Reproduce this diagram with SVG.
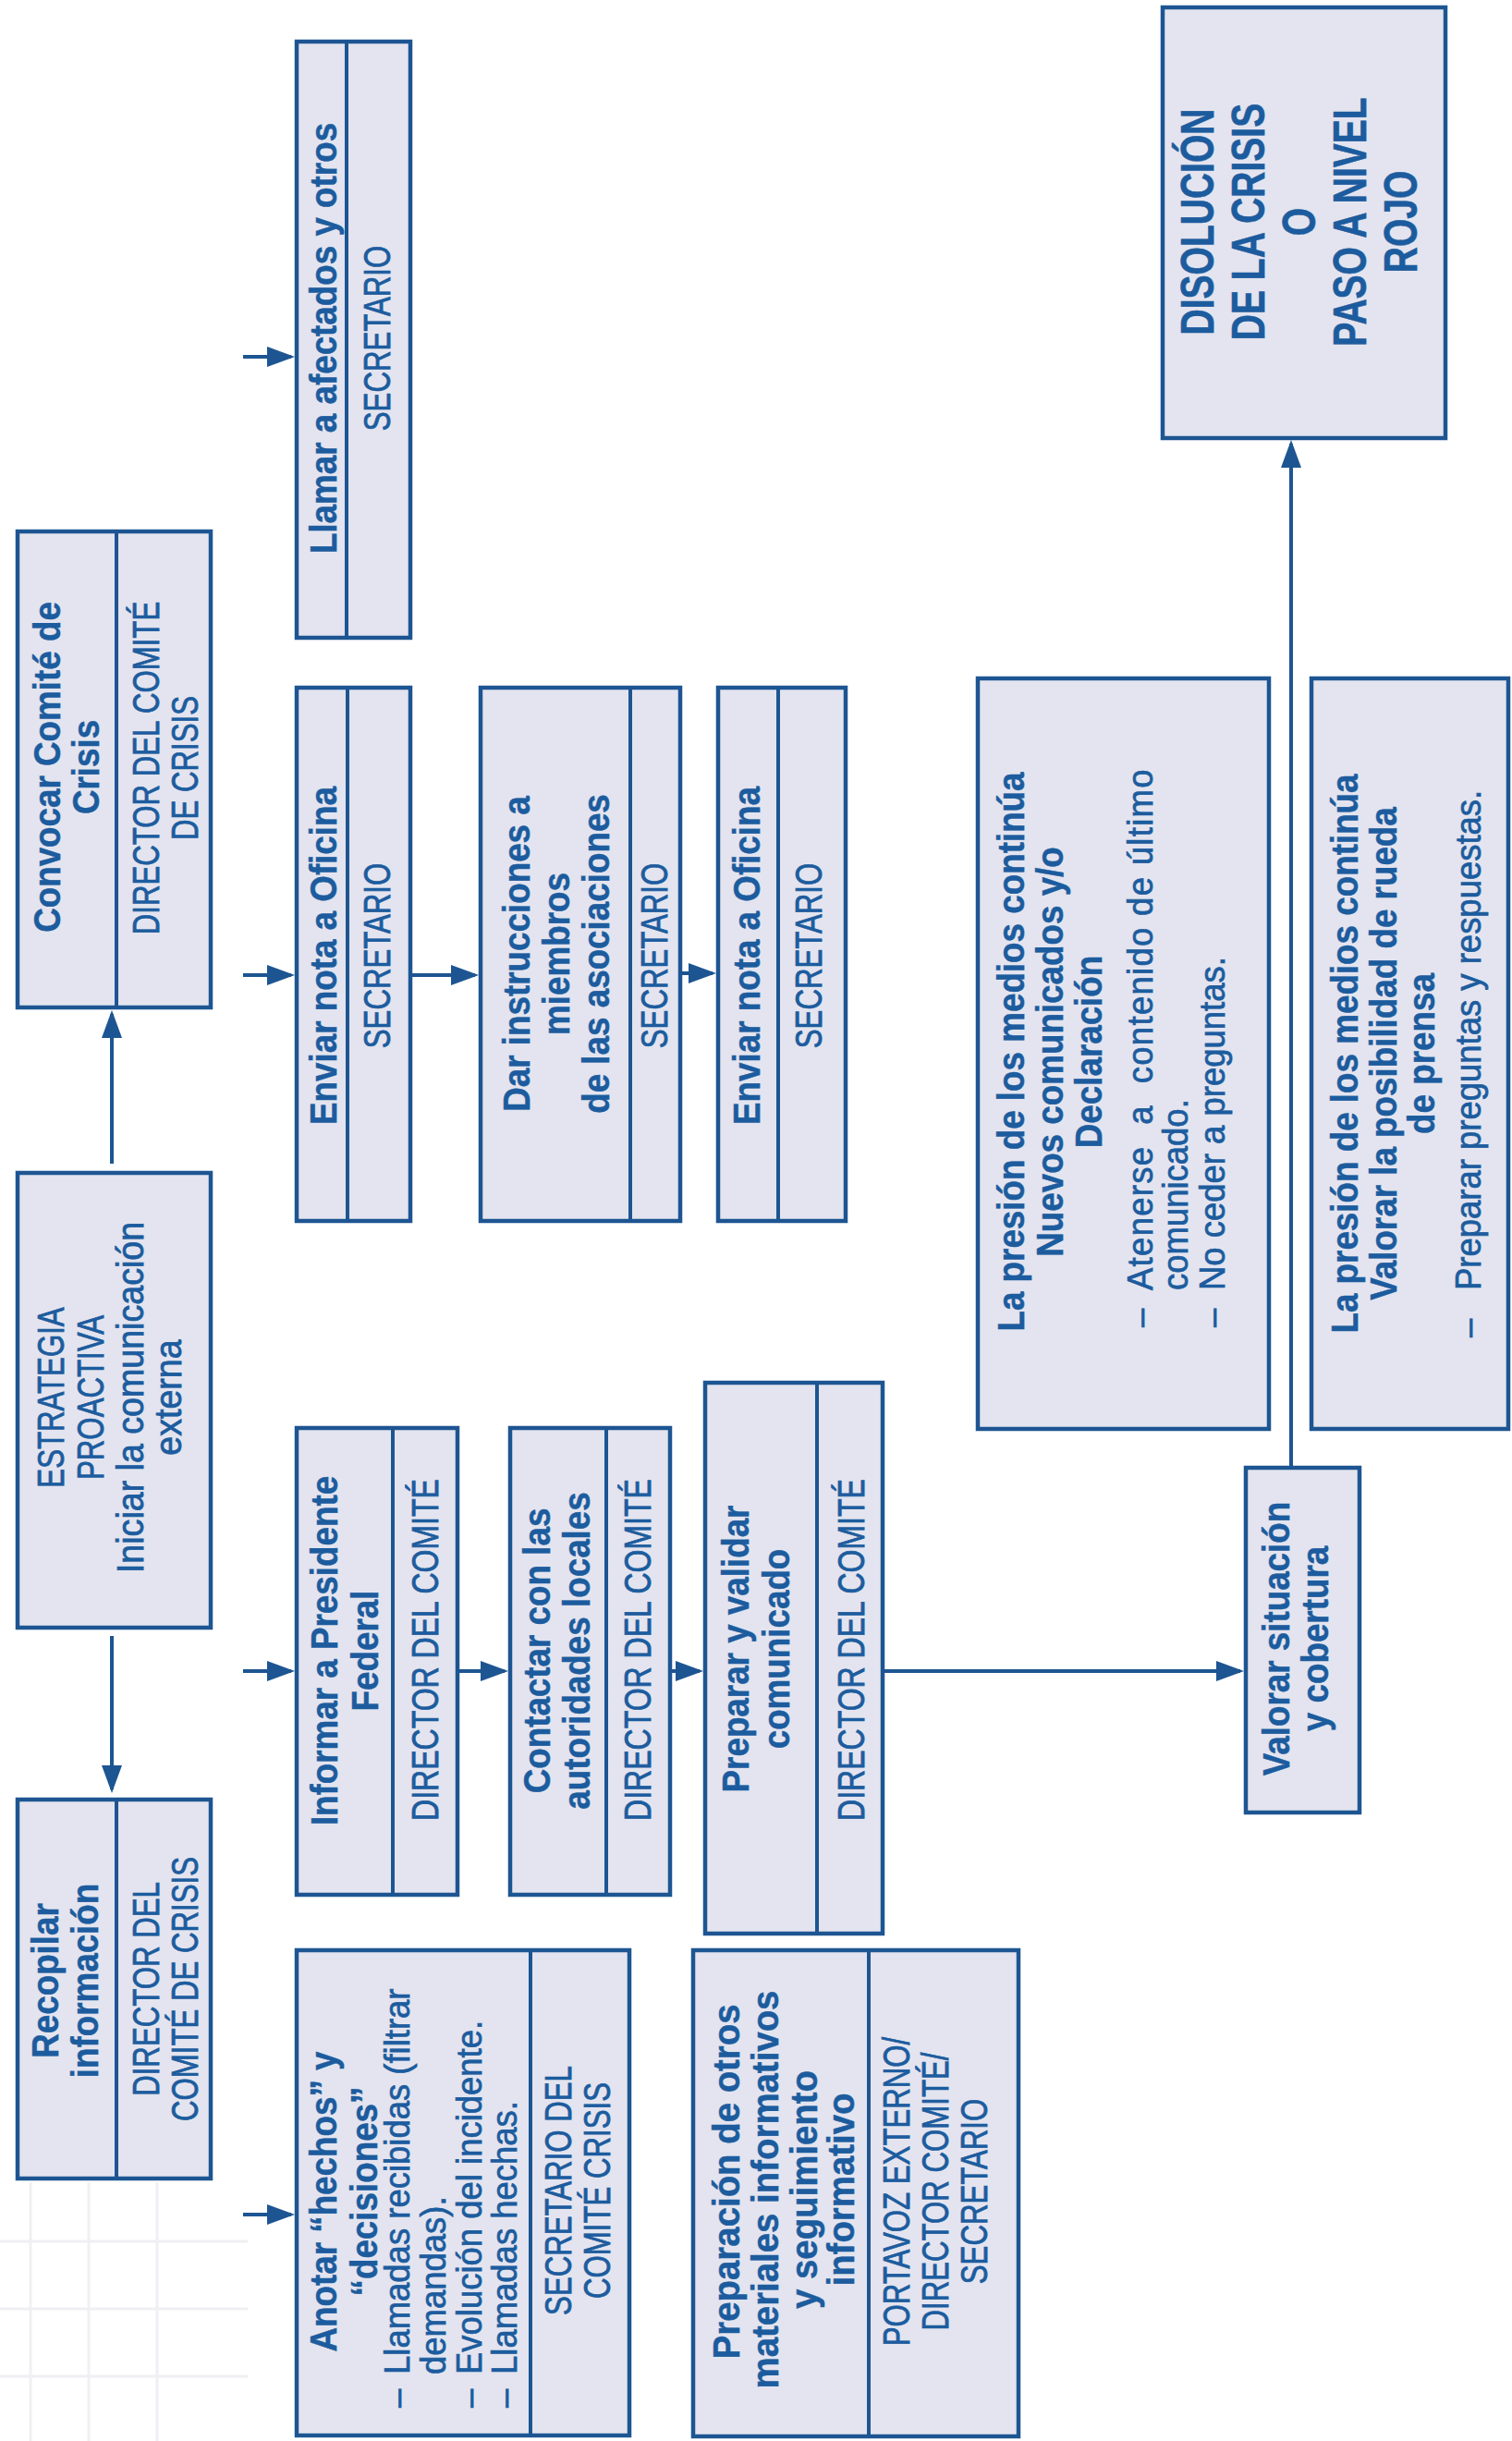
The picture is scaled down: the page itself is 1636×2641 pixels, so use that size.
<svg xmlns="http://www.w3.org/2000/svg" width="1636" height="2641" viewBox="0 0 1636 2641">
<style>
.box{fill:#e3e4ef;stroke:#1d5592;stroke-width:4.5}
.dv{stroke:#1d5592;stroke-width:4}
.conn{stroke:#1d5592;stroke-width:4;fill:none}
text{font-family:"Liberation Sans",Arial,sans-serif;fill:#1c5c9e}
.b{font-weight:bold;font-size:40px;text-anchor:middle;stroke:#1c5c9e;stroke-width:0.5}
.r{font-size:40px;text-anchor:middle;stroke:#1c5c9e;stroke-width:0.8}
.l{font-size:38px;stroke:#1c5c9e;stroke-width:0.7}
.d{font-weight:bold;font-size:50px;text-anchor:middle;stroke:#1c5c9e;stroke-width:0.6}
</style>
<defs>
<marker id="ah" markerUnits="userSpaceOnUse" markerWidth="30" markerHeight="22" refX="26" refY="11" orient="auto" viewBox="0 0 30 22">
<path d="M0,0 L30,11 L0,22 z" fill="#1d5592"/>
</marker>
</defs>
<rect width="1636" height="2641" fill="#ffffff"/>
<g id="grid" stroke="#f0f0f4" stroke-width="3">
<line x1="33" y1="2361" x2="33" y2="2641"/>
<line x1="96" y1="2361" x2="96" y2="2641"/>
<line x1="170" y1="2361" x2="170" y2="2641"/>
<line x1="0" y1="2425" x2="268" y2="2425"/>
<line x1="0" y1="2498" x2="268" y2="2498"/>
<line x1="0" y1="2571" x2="268" y2="2571"/>
</g>
<g id="connectors">
<path class="conn" d="M121,1259 L121,1097" marker-end="url(#ah)"/>
<path class="conn" d="M121,1770 L121,1936" marker-end="url(#ah)"/>
<path class="conn" d="M263,386 L315,386" marker-end="url(#ah)"/>
<path class="conn" d="M263,1055 L315,1055" marker-end="url(#ah)"/>
<path class="conn" d="M446,1055 L514,1055" marker-end="url(#ah)"/>
<path class="conn" d="M738,1053 L771,1053" marker-end="url(#ah)"/>
<path class="conn" d="M263,1808 L315,1808" marker-end="url(#ah)"/>
<path class="conn" d="M497,1808 L546,1808" marker-end="url(#ah)"/>
<path class="conn" d="M727,1808 L757,1808" marker-end="url(#ah)"/>
<path class="conn" d="M957,1808 L1342,1808" marker-end="url(#ah)"/>
<path class="conn" d="M1397,1586 L1397,480" marker-end="url(#ah)"/>
<path class="conn" d="M263,2396 L315,2396" marker-end="url(#ah)"/>
</g>
<g id="llamar">
<rect class="box" x="321" y="45" width="123" height="645"/>
<line class="dv" x1="375" y1="45" x2="375" y2="690"/>
<text class="b" transform="translate(0,366) rotate(-90) scale(0.92,1)" y="364">Llamar a afectados y otros</text>
<text class="r" transform="translate(0,366) rotate(-90) scale(0.78,1)" y="422">SECRETARIO</text>
</g>
<g id="convocar">
<rect class="box" x="19" y="575" width="209" height="515"/>
<line class="dv" x1="126" y1="575" x2="126" y2="1090"/>
<text class="b" transform="translate(0,830) rotate(-90) scale(0.92,1)"><tspan x="0" y="65">Convocar Comité de</tspan><tspan x="0" y="107">Crisis</tspan></text>
<text class="r" transform="translate(0,831) rotate(-90) scale(0.78,1)"><tspan x="0" y="172">DIRECTOR DEL COMITÉ</tspan><tspan x="0" y="214">DE CRISIS</tspan></text>
</g>
<g id="estrategia">
<rect class="box" x="19" y="1269" width="209" height="492"/>
<text class="r" transform="translate(0,1512) rotate(-90) scale(0.78,1)"><tspan x="0" y="69">ESTRATEGIA</tspan><tspan x="0" y="112">PROACTIVA</tspan></text>
<text class="r" transform="translate(0,1512) rotate(-90) scale(0.94,1)"><tspan x="0" y="155">Iniciar la comunicación</tspan><tspan x="0" y="196">externa</tspan></text>
</g>
<g id="recopilar">
<rect class="box" x="19" y="1947" width="209" height="410"/>
<line class="dv" x1="126" y1="1947" x2="126" y2="2357"/>
<text class="b" transform="translate(0,2143) rotate(-90) scale(0.92,1)"><tspan x="0" y="63">Recopilar</tspan><tspan x="0" y="106">información</tspan></text>
<text class="r" transform="translate(0,2152) rotate(-90) scale(0.78,1)"><tspan x="0" y="172">DIRECTOR DEL</tspan><tspan x="0" y="214">COMITÉ DE CRISIS</tspan></text>
</g>
<g id="enviar1">
<rect class="box" x="321" y="744" width="123" height="577"/>
<line class="dv" x1="376" y1="744" x2="376" y2="1321"/>
<text class="b" transform="translate(0,1034) rotate(-90) scale(0.92,1)" y="364">Enviar nota a Oficina</text>
<text class="r" transform="translate(0,1034) rotate(-90) scale(0.78,1)" y="422">SECRETARIO</text>
</g>
<g id="dar">
<rect class="box" x="520" y="744" width="216" height="577"/>
<line class="dv" x1="682" y1="744" x2="682" y2="1321"/>
<text class="b" transform="translate(0,1032) rotate(-90) scale(0.92,1)"><tspan x="0" y="573">Dar instrucciones a</tspan><tspan x="0" y="616">miembros</tspan><tspan x="0" y="659">de las asociaciones</tspan></text>
<text class="r" transform="translate(0,1034) rotate(-90) scale(0.78,1)" y="722">SECRETARIO</text>
</g>
<g id="enviar2">
<rect class="box" x="777" y="744" width="138" height="577"/>
<line class="dv" x1="842" y1="744" x2="842" y2="1321"/>
<text class="b" transform="translate(0,1034) rotate(-90) scale(0.92,1)" y="822">Enviar nota a Oficina</text>
<text class="r" transform="translate(0,1034) rotate(-90) scale(0.78,1)" y="889">SECRETARIO</text>
</g>
<g id="informar">
<rect class="box" x="321" y="1545" width="174" height="505"/>
<line class="dv" x1="425" y1="1545" x2="425" y2="2050"/>
<text class="b" transform="translate(0,1786) rotate(-90) scale(0.92,1)"><tspan x="0" y="365">Informar a Presidente</tspan><tspan x="0" y="409">Federal</tspan></text>
<text class="r" transform="translate(0,1785) rotate(-90) scale(0.8,1)" y="474">DIRECTOR DEL COMITÉ</text>
</g>
<g id="contactar">
<rect class="box" x="552" y="1545" width="173" height="505"/>
<line class="dv" x1="656" y1="1545" x2="656" y2="2050"/>
<text class="b" transform="translate(0,1786) rotate(-90) scale(0.92,1)"><tspan x="0" y="595">Contactar con las</tspan><tspan x="0" y="638">autoridades locales</tspan></text>
<text class="r" transform="translate(0,1785) rotate(-90) scale(0.8,1)" y="704">DIRECTOR DEL COMITÉ</text>
</g>
<g id="preparar">
<rect class="box" x="763" y="1496" width="192" height="596"/>
<line class="dv" x1="884" y1="1496" x2="884" y2="2092"/>
<text class="b" transform="translate(0,1784) rotate(-90) scale(0.92,1)"><tspan x="0" y="810">Preparar y validar</tspan><tspan x="0" y="854">comunicado</tspan></text>
<text class="r" transform="translate(0,1785) rotate(-90) scale(0.8,1)" y="935">DIRECTOR DEL COMITÉ</text>
</g>
<g id="anotar">
<rect class="box" x="321" y="2110" width="360" height="525"/>
<line class="dv" x1="574" y1="2110" x2="574" y2="2635"/>
<text class="b" transform="translate(0,2382) rotate(-90) scale(0.92,1)" y="364">Anotar “hechos” y</text>
<text class="b" transform="translate(0,2371) rotate(-90) scale(0.92,1)" y="408">“decisiones”</text>
<text class="l" transform="translate(0,2605) rotate(-90) scale(0.96,1)" y="443">–</text>
<text class="l" transform="translate(0,2569) rotate(-90) scale(0.96,1)"><tspan x="0" y="443">Llamadas recibidas (filtrar</tspan><tspan x="0" y="482">demandas).</tspan></text>
<text class="l" transform="translate(0,2605) rotate(-90) scale(0.96,1)" y="521">–</text>
<text class="l" transform="translate(0,2569) rotate(-90) scale(0.96,1)" y="521">Evolución del incidente.</text>
<text class="l" transform="translate(0,2605) rotate(-90) scale(0.96,1)" y="559">–</text>
<text class="l" transform="translate(0,2569) rotate(-90) scale(0.96,1)" y="559">Llamadas hechas.</text>
<text class="r" transform="translate(0,2370) rotate(-90) scale(0.78,1)"><tspan x="0" y="618">SECRETARIO DEL</tspan><tspan x="0" y="660">COMITÉ CRISIS</tspan></text>
</g>
<g id="preparacion">
<rect class="box" x="750" y="2110" width="352" height="526"/>
<line class="dv" x1="940" y1="2110" x2="940" y2="2636"/>
<text class="b" transform="translate(0,2369) rotate(-90) scale(0.96,1)"><tspan x="9" y="800">Preparación de otros</tspan><tspan x="0" y="842">materiales informativos</tspan><tspan x="0" y="884">y seguimiento</tspan><tspan x="0" y="924">informativo</tspan></text>
<text class="r" transform="translate(0,2371) rotate(-90) scale(0.78,1)"><tspan x="0" y="984">PORTAVOZ EXTERNO/</tspan><tspan x="0" y="1026">DIRECTOR COMITÉ/</tspan><tspan x="0" y="1068">SECRETARIO</tspan></text>
</g>
<g id="presion1">
<rect class="box" x="1058" y="734" width="315" height="812"/>
<text class="b" transform="translate(0,1138) rotate(-90) scale(0.92,1)"><tspan x="0" y="1108">La presión de los medios continúa</tspan><tspan x="0" y="1150">Nuevos comunicados y/o</tspan><tspan x="0" y="1192">Declaración</tspan></text>
<text class="l" transform="translate(0,1436) rotate(-90) scale(0.96,1)" y="1247">–</text>
<text class="l" transform="translate(0,1396) rotate(-90) scale(0.96,1)" y="1247" xml:space="preserve" textLength="587" lengthAdjust="spacing">Atenerse  a  contenido de último</text>
<text class="l" transform="translate(0,1396) rotate(-90) scale(0.96,1)" y="1285">comunicado.</text>
<text class="l" transform="translate(0,1436) rotate(-90) scale(0.96,1)" y="1325">–</text>
<text class="l" transform="translate(0,1396) rotate(-90) scale(0.96,1)" y="1325">No ceder a preguntas.</text>
</g>
<g id="presion2">
<rect class="box" x="1419" y="734" width="213" height="812"/>
<text class="b" transform="translate(0,1140) rotate(-90) scale(0.92,1)"><tspan x="0" y="1469">La presión de los medios continúa</tspan><tspan x="0" y="1511">Valorar la posibilidad de rueda</tspan><tspan x="0" y="1552">de prensa</tspan></text>
<text class="l" transform="translate(0,1447) rotate(-90) scale(0.96,1)" y="1602">–</text>
<text class="l" transform="translate(0,1396) rotate(-90) scale(0.96,1)" y="1602">Preparar preguntas y respuestas.</text>
</g>
<g id="valorar">
<rect class="box" x="1348" y="1588" width="123" height="373"/>
<text class="b" transform="translate(0,1773) rotate(-90) scale(0.92,1)"><tspan x="0" y="1395">Valorar situación</tspan><tspan x="0" y="1437">y cobertura</tspan></text>
</g>
<g id="disolucion">
<rect class="box" x="1258" y="8" width="306" height="466"/>
<text class="d" transform="translate(0,240) rotate(-90) scale(0.78,1)"><tspan x="0" y="1313">DISOLUCIÓN</tspan><tspan x="0" y="1368">DE LA CRISIS</tspan><tspan x="0" y="1423">O</tspan><tspan x="0" y="1478">PASO A NIVEL</tspan><tspan x="0" y="1533">ROJO</tspan></text>
</g>
</svg>
